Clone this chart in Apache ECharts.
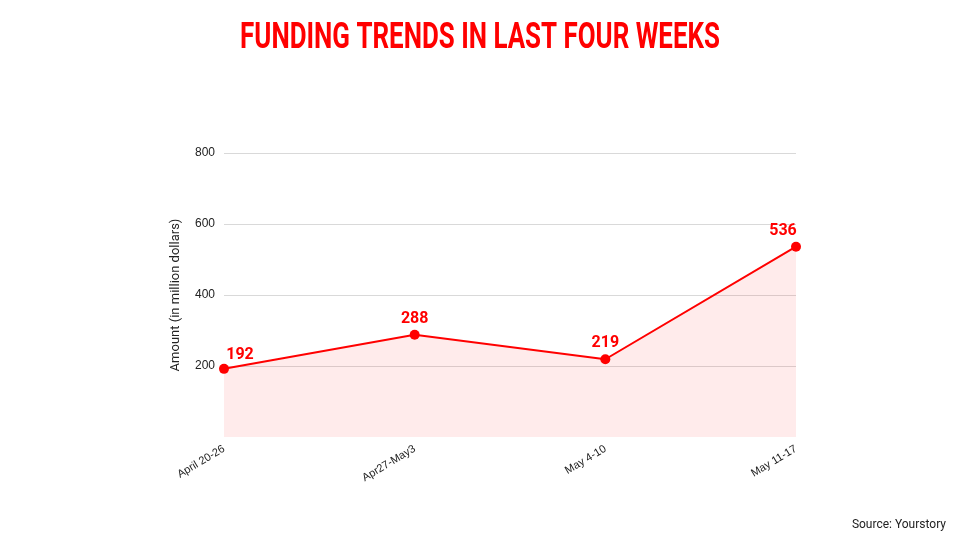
<!DOCTYPE html>
<html><head><meta charset="utf-8">
<script src="https://cdn.jsdelivr.net/npm/echarts@6/dist/echarts.min.js"></script>
<style>html,body{margin:0;padding:0;background:#fff}#c{width:960px;height:540px}</style>
</head><body><div id="c"></div>
<script>
const categories = ['April 20-26', 'Apr27-May3', 'May 4-10', 'May 11-17'];
const amounts = [192, 288, 219, 536];
const yTicks = [0, 200, 400, 600, 800];

const chart = echarts.init(document.getElementById('c'), null, {renderer: 'canvas'});
const labelPos = [
  {position: 'top', offset: [16, 4]},
  {position: 'top', offset: [0, 2]},
  {position: 'top', offset: [0, 2]},
  {position: 'top', offset: [-13, 2]}
];
chart.setOption({
  animation: false,
  graphic: [{
    type: 'text', x: 480, y: 39, scaleX: 0.70, originX: 0, originY: 0,
    style: {
      text: 'FUNDING TRENDS IN LAST FOUR WEEKS',
      fill: '#ff0000', font: 'bold 37px Roboto', align: 'center', verticalAlign: 'middle'
    }
  }],
  title: [{
    text: 'Source: Yourstory',
    right: 9, top: 514,
    textStyle: {color: '#222', fontSize: 12, fontWeight: 'normal', fontFamily: 'Roboto'}
  }],
  grid: {left: 224, right: 164, top: 153, bottom: 103},
  xAxis: {
    type: 'category', data: categories, boundaryGap: false,
    axisLine: {show: false}, axisTick: {show: false},
    axisLabel: {rotate: 31, color: '#222', fontSize: 11, fontFamily: 'Liberation Sans', margin: 11, interval: 0,
      padding: [0, 0, 0, 0]}
  },
  yAxis: {
    type: 'value', min: yTicks[0], max: yTicks[yTicks.length - 1], interval: 200,
    name: 'Amount (in million dollars)', nameLocation: 'middle', nameGap: 42,
    nameTextStyle: {color: '#222', fontSize: 13, fontFamily: 'Roboto'},
    axisLine: {show: false}, axisTick: {show: false},
    axisLabel: {color: '#222', fontSize: 12, fontFamily: 'Liberation Sans', margin: 9,
      formatter: v => v === 0 ? '' : String(v)},
    splitLine: {show: true, showMinLine: false, lineStyle: {color: '#d9d9d9', width: 1}}
  },
  series: [{
    type: 'line',
    data: amounts.map((v, i) => ({value: v, label: labelPos[i]})),
    symbol: 'circle', symbolSize: 10,
    itemStyle: {color: '#ff0000'},
    lineStyle: {color: '#ff0000', width: 2},
    areaStyle: {color: 'rgba(255,0,0,0.11)'},
    label: {show: true, color: '#ff0000', fontSize: 16, fontWeight: 'bold', fontFamily: 'Roboto', distance: 5}
  }]
});
</script></body></html>
